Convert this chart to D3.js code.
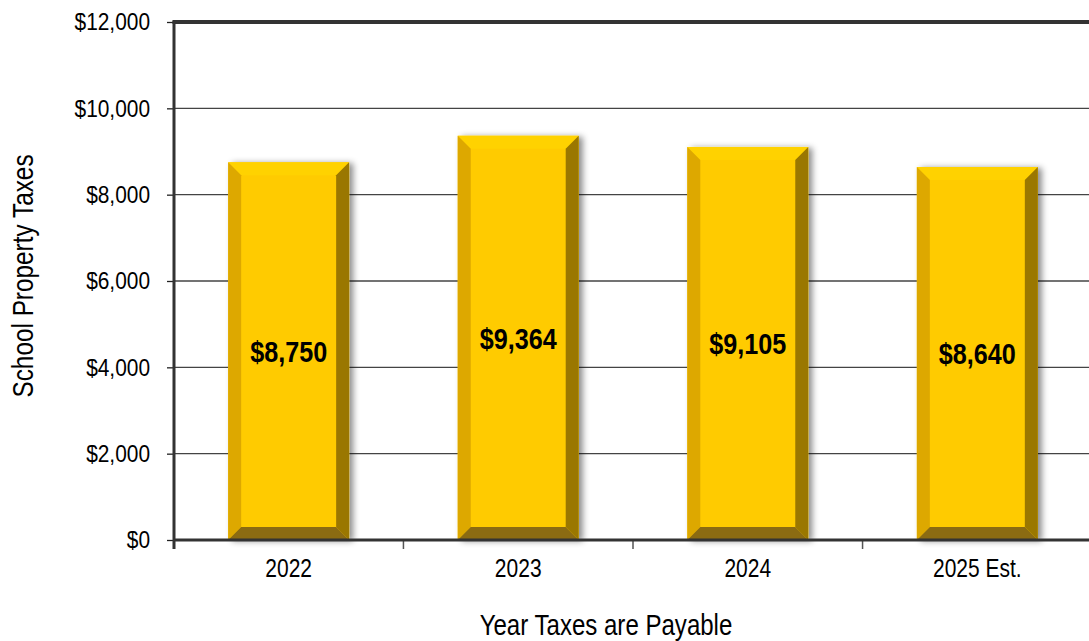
<!DOCTYPE html>
<html>
<head>
<meta charset="utf-8">
<script src="https://cdn.jsdelivr.net/npm/d3@7"></script>
<style>
  body { margin: 0; background: #fff; }
  text { font-family: "Liberation Sans", Arial, sans-serif; }
</style>
</head>
<body>
<script>
// chart values
var years = ["2022", "2023", "2024", "2025 Est."];
var taxes = [8750, 9364, 9105, 8640];
var yTicks = [0, 2000, 4000, 6000, 8000, 10000, 12000];

var margin = {top: 22, right: -3, bottom: 101, left: 174};
var width = 1089 - margin.left - margin.right,
    height = 641 - margin.top - margin.bottom;

var data = years.map((y, i) => ({year: y, value: taxes[i]}));

// the original uses a narrow font, so squeeze text horizontally
function squeeze(sel, k) {
    sel.each(function() {
        var t = d3.select(this);
        var tx = +t.attr("x") || 0;
        t.attr("x", 0).attr("transform", "translate(" + tx + ",0) scale(" + k + ",1)");
    });
}

var svg = d3.select("body").append("svg")
    .attr("width", 1089)
    .attr("height", 641);

var defs = svg.append("defs");
var shadow = defs.append("filter").attr("id", "shadow")
    .attr("x", "-10%").attr("y", "-10%").attr("width", "130%").attr("height", "120%");
shadow.append("feDropShadow")
    .attr("dx", 4).attr("dy", 1).attr("stdDeviation", 3)
    .attr("flood-color", "#000").attr("flood-opacity", 0.45);

var chart = svg.append("g")
    .attr("transform", "translate(" + margin.left + "," + margin.top + ")");

var x = d3.scaleBand()
    .domain(years)
    .range([0, width])
    .paddingInner(0.473)
    .paddingOuter(0.236);

var y = d3.scaleLinear()
    .domain([0, 12000])
    .range([height, 0]);

// gridlines
chart.append("g").selectAll("line")
    .data(yTicks.filter(d => d > 0 && d < 12000)).enter()
    .append("line")
    .attr("x1", 0).attr("x2", width)
    .attr("y1", d => y(d)).attr("y2", d => y(d))
    .attr("stroke", "#444").attr("stroke-width", 1.3);

// bars with bevel
var b = 13;
var bars = chart.append("g").selectAll("g")
    .data(data).enter()
    .append("g");

bars.each(function(d) {
    var g = d3.select(this);
    var x0 = x(d.year), x1 = x0 + x.bandwidth();
    var y0 = y(d.value), y1 = y(0);
    var pts = p => p.map(q => q.join(",")).join(" ");
    g.append("rect")
        .attr("x", x0).attr("y", y0)
        .attr("width", x1 - x0).attr("height", y1 - y0)
        .attr("fill", "#FFCB00")
        .attr("filter", "url(#shadow)");
    g.append("polygon").attr("fill", "#FFD200")
        .attr("points", pts([[x0, y0], [x1, y0], [x1 - b, y0 + b], [x0 + b, y0 + b]]));
    g.append("polygon").attr("fill", "#DDA800")
        .attr("points", pts([[x0, y0], [x0 + b, y0 + b], [x0 + b, y1 - b], [x0, y1]]));
    g.append("polygon").attr("fill", "#9A7700")
        .attr("points", pts([[x1, y0], [x1, y1], [x1 - b, y1 - b], [x1 - b, y0 + b]]));
    g.append("polygon").attr("fill", "#8B6B12")
        .attr("points", pts([[x0, y1], [x0 + b, y1 - b], [x1 - b, y1 - b], [x1, y1]]));
});

// value labels
var labels = bars.append("text")
    .attr("x", d => x(d.year) + x.bandwidth() / 2)
    .attr("y", d => (y(d.value) + y(0)) / 2)
    .attr("dy", "0.36em")
    .attr("text-anchor", "middle")
    .attr("font-size", 30)
    .attr("font-weight", "bold")
    .attr("fill", "#000")
    .text(d => "$" + d3.format(",")(d.value));
squeeze(labels, 0.84);

// y axis
var yAxis = d3.axisLeft(y)
    .tickValues(yTicks)
    .tickSize(7)
    .tickPadding(17)
    .tickFormat(d => "$" + d3.format(",")(d));

var yg = chart.append("g").call(yAxis);
yg.select(".domain").remove();
yg.selectAll(".tick line").attr("stroke", "#222").attr("stroke-width", 1.3);
yg.selectAll(".tick text")
    .attr("font-size", 24)
    .attr("font-family", "'Liberation Sans', Arial, sans-serif")
    .attr("fill", "#000");
squeeze(yg.selectAll(".tick text"), 0.87);

// x axis labels
var xAxis = d3.axisBottom(x).tickSize(0).tickPadding(19);
var xg = chart.append("g")
    .attr("transform", "translate(0," + height + ")")
    .call(xAxis);
xg.select(".domain").remove();
xg.selectAll(".tick text")
    .attr("font-size", 25)
    .attr("font-family", "'Liberation Sans', Arial, sans-serif")
    .attr("fill", "#000");
squeeze(xg.selectAll(".tick text"), 0.84);

// x tick marks at category boundaries
var bounds = years.map(d => x(d) - x.step() * x.paddingInner() / 2);
bounds[0] = 0;
bounds.push(width);
chart.append("g").selectAll("line")
    .data(bounds).enter()
    .append("line")
    .attr("x1", d => d).attr("x2", d => d)
    .attr("y1", height).attr("y2", height + 9)
    .attr("stroke", "#555").attr("stroke-width", 1.5);

// frame: left, bottom, top
chart.append("line")
    .attr("x1", 0).attr("x2", 0).attr("y1", -1).attr("y2", height + 9)
    .attr("stroke", "#333").attr("stroke-width", 3);
chart.append("line")
    .attr("x1", 0).attr("x2", width).attr("y1", height).attr("y2", height)
    .attr("stroke", "#333").attr("stroke-width", 3);
chart.append("line")
    .attr("x1", -1.5).attr("x2", width).attr("y1", 0).attr("y2", 0)
    .attr("stroke", "#333").attr("stroke-width", 4);

// axis titles
svg.append("text")
    .attr("transform", "translate(33,276) rotate(-90) scale(0.84,1)")
    .attr("text-anchor", "middle")
    .attr("font-size", 29)
    .attr("fill", "#000")
    .text("School Property Taxes");

svg.append("text")
    .attr("transform", "translate(606,635) scale(0.83,1)")
    .attr("text-anchor", "middle")
    .attr("font-size", 29)
    .attr("fill", "#000")
    .text("Year Taxes are Payable");
</script>
</body>
</html>
